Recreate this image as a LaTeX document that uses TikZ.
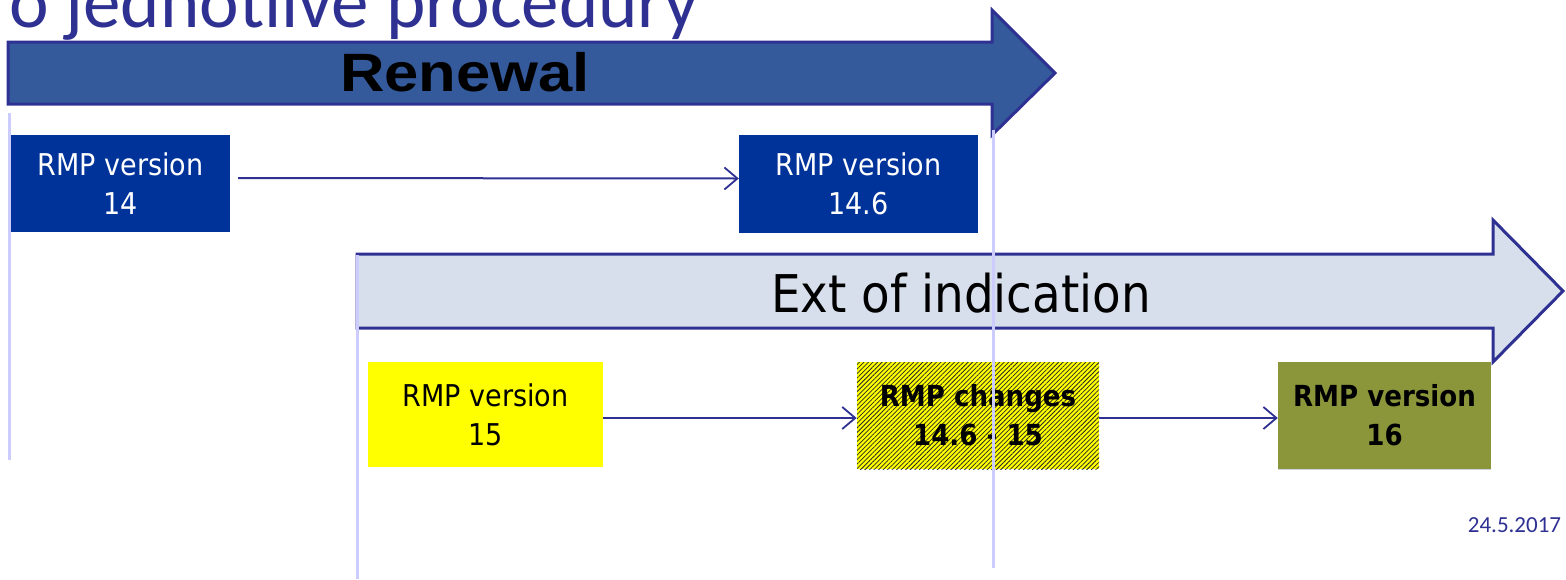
\documentclass[tikz,border=0pt]{standalone}
\usepackage{fontspec}
\setmainfont{Carlito}
\newfontfamily\boxfont{DejaVu Sans Condensed}
\newfontfamily\arialfont{Liberation Sans}
\usetikzlibrary{arrows.meta,patterns.meta}

\definecolor{navy}{RGB}{46,49,146}
\definecolor{renewblue}{RGB}{52,90,155}
\definecolor{boxblue}{RGB}{0,51,153}
\definecolor{extfill}{RGB}{216,223,236}
\definecolor{guide}{RGB}{204,204,255}
\definecolor{brightyellow}{RGB}{255,255,0}
\definecolor{olivebase}{RGB}{170,180,40}
\definecolor{olivedot}{RGB}{40,50,120}

\tikzset{
  rmpbox/.style={inner sep=0pt, align=center,
    font=\boxfont\fontsize{30}{39}\selectfont},
  bluebox/.style={rmpbox, fill=boxblue, text=white},
  yellowbox/.style={rmpbox, fill=brightyellow, text=black},
  hatchbox/.style={rmpbox, font=\boxfont\bfseries\fontsize{29}{39}\selectfont,
    preaction={fill=brightyellow},
    pattern={Lines[angle=45,distance=3.2pt,line width=0.75pt]},
    pattern color=black!85},
  dotbox/.style={rmpbox, font=\boxfont\bfseries\fontsize{29}{39}\selectfont,
    preaction={fill=olivebase},
    pattern={Dots[distance=2pt,radius=0.65pt]},
    pattern color=olivedot},
  conn/.style={draw=navy, line width=2pt,
    -{Straight Barb[length=13pt,width=22pt,line width=1.8pt]}},
  bigarrow/.style={draw=navy, line width=3pt, line join=miter},
  guideline/.style={draw=guide, line width=3pt}
}

\begin{document}
\begin{tikzpicture}[x=1pt,y=-1pt]
  \useasboundingbox (0,0) rectangle (1566,579);
  \clip (0,0) rectangle (1566,579);

  % heading, partly above the page edge
  \node[anchor=base west, text=navy, inner sep=0pt,
        font=\fontsize{75}{75}\selectfont] (title) at (9,27) {o jednotlive procedury};

  % renewal block arrow
  \draw[bigarrow, fill=renewblue]
    (8,42) -- (992,42) -- (992,10) -- (1055,73) -- (992,135) -- (992,104) -- (8,104) -- cycle;
  \node[font=\arialfont\bfseries\fontsize{54}{54}\selectfont, text=black] (renewal)
    at (465,72) {\scalebox{1.14}[1]{Renewal}};

  % extension of indication block arrow
  \draw[bigarrow, fill=extfill]
    (357,254) -- (1493,254) -- (1493,220) -- (1563,291) -- (1493,362) -- (1493,328) -- (357,328) -- cycle;
  \node[font=\boxfont\fontsize{52}{52}\selectfont, text=black] (ext)
    at (961,293) {Ext of indication};

  % RMP boxes
  \node[bluebox, minimum width=219pt, minimum height=97pt] (v14)  at (120.5,183.5) {RMP version\\14};
  \node[bluebox, minimum width=239pt, minimum height=98pt] (v146) at (858.5,184)   {RMP version\\14.6};
  \node[yellowbox, minimum width=235pt, minimum height=105pt] (v15) at (485.5,414.5) {RMP version\\15};
  \node[hatchbox, minimum width=242pt, minimum height=107pt] (chg) at (978,415.5)   {RMP changes\\14.6 - 15};
  \node[dotbox, minimum width=213pt, minimum height=107pt] (v16)  at (1384.5,415.5) {RMP version\\16};

  % connectors
  \draw[conn] ([shift={(8,-5.5)}]v14.east) -- ([shift={(0,-5.5)}]v146.west);
  \draw[conn] ([shift={(0,3.5)}]v15.east) -- ([shift={(0,2.5)}]chg.west);
  \draw[conn] ([shift={(0,2.5)}]chg.east) -- ([shift={(0,2.5)}]v16.west);

  % vertical guide lines
  \draw[guideline] (9,113) -- (9,460);
  \draw[guideline] (357,255) -- (357,579);
  \draw[guideline] (993,130) -- (993,568);

  % date
  \node[text=navy, font=\fontsize{23}{23}\selectfont] (date) at (1514.5,525) {24.5.2017};
\end{tikzpicture}
\end{document}
